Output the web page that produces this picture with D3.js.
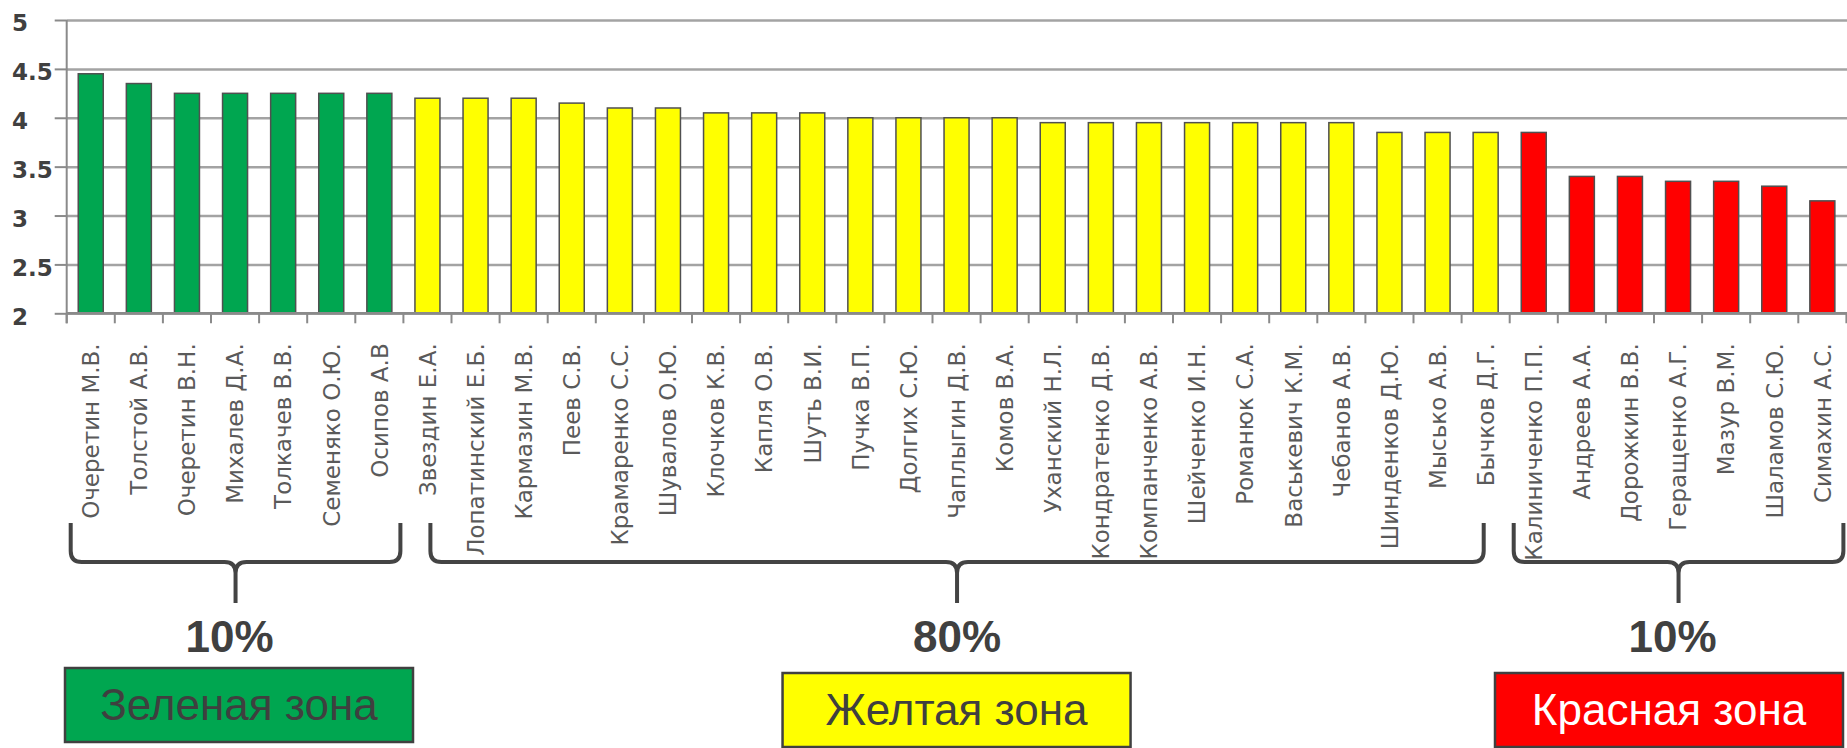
<!DOCTYPE html>
<html>
<head>
<meta charset="utf-8">
<script src="https://cdn.jsdelivr.net/npm/d3@7"></script>
<style>
  html, body { margin: 0; padding: 0; background: #ffffff; }
  svg { display: block; }
</style>
</head>
<body>
<svg id="chart" width="1847" height="748"></svg>
<script>
// ---------------- DATA ----------------
const categories = [
  "Очеретин М.В.", "Толстой А.В.", "Очеретин В.Н.", "Михалев Д.А.", "Толкачев В.В.",
  "Семеняко О.Ю.", "Осипов А.В", "Звездин Е.А.", "Лопатинский Е.Б.", "Кармазин М.В.",
  "Пеев С.В.", "Крамаренко С.С.", "Шувалов О.Ю.", "Клочков К.В.", "Капля О.В.",
  "Шуть В.И.", "Пучка В.П.", "Долгих С.Ю.", "Чаплыгин Д.В.", "Комов В.А.",
  "Уханский Н.Л.", "Кондратенко Д.В.", "Компанченко А.В.", "Шейченко И.Н.", "Романюк С.А.",
  "Васькевич К.М.", "Чебанов А.В.", "Шинденков Д.Ю.", "Мысько А.В.", "Бычков Д.Г.",
  "Калиниченко П.П.", "Андреев А.А.", "Дорожкин В.В.", "Геращенко А.Г.", "Мазур В.М.",
  "Шаламов С.Ю.", "Симахин А.С."
];
const values = [
  4.45, 4.35, 4.25, 4.25, 4.25,
  4.25, 4.25, 4.2, 4.2, 4.2,
  4.15, 4.1, 4.1, 4.05, 4.05,
  4.05, 4.0, 4.0, 4.0, 4.0,
  3.95, 3.95, 3.95, 3.95, 3.95,
  3.95, 3.95, 3.85, 3.85, 3.85,
  3.85, 3.4, 3.4, 3.35, 3.35,
  3.3, 3.15
];
const yTickValues = [2, 2.5, 3, 3.5, 4, 4.5, 5];
const yTickLabels = ["2", "2.5", "3", "3.5", "4", "4.5", "5"];

const zoneNames  = ["Зеленая зона", "Желтая зона", "Красная зона"];
const zoneShares = ["10%", "80%", "10%"];
const zoneSizes  = [7, 23, 7];

// ---------------- STYLE / LAYOUT ----------------
const zoneColors     = ["#00a650", "#ffff00", "#ff0000"];
const zoneTextColors = ["#3f3f3f", "#3f3f3f", "#ffffff"];
const braceInsets    = [[4, 3], [27, 26], [4, 3]];
const boxTops        = [668, 673, 673];

const W = 1847, H = 748;
const plotLeft = 66.7, plotRight = 1846.4, plotTop = 20, plotBottom = 313.3;

const svg = d3.select("#chart");
svg.append("rect").attr("width", W).attr("height", H).attr("fill", "#ffffff");

const x = d3.scaleBand().domain(categories).range([plotLeft, plotRight]).padding(0);
const y = d3.scaleLinear().domain([2, 5]).range([plotBottom, plotTop]);

// zone index per bar
const zoneOf = [];
zoneSizes.forEach((n, z) => { for (let i = 0; i < n; i++) zoneOf.push(z); });

// gridlines
const grid = svg.append("g").attr("transform", `translate(${plotLeft},0)`)
  .call(d3.axisLeft(y).tickValues(yTickValues).tickSize(-(W - plotLeft)).tickFormat(""));
grid.select(".domain").remove();
grid.selectAll("line").attr("stroke", "#a3a3a3").attr("stroke-width", 2.5);

// y axis
const yAxis = svg.append("g").attr("transform", `translate(${plotLeft},0)`)
  .call(d3.axisLeft(y).tickValues(yTickValues).tickFormat((d, i) => yTickLabels[i]).tickSize(12).tickSizeOuter(0));
yAxis.select(".domain").remove();
yAxis.selectAll("line").attr("stroke", "#8a8a8a").attr("stroke-width", 2);
yAxis.selectAll("text")
  .attr("x", 12 - plotLeft)
  .attr("dy", "0.47em")
  .attr("text-anchor", "start")
  .attr("font-family", "'DejaVu Sans', Verdana, sans-serif")
  .attr("font-weight", "bold")
  .attr("font-size", 23)
  .attr("fill", "#404040");
svg.append("line")
  .attr("x1", plotLeft).attr("x2", plotLeft)
  .attr("y1", y(5)).attr("y2", plotBottom + 10)
  .attr("stroke", "#8a8a8a").attr("stroke-width", 2);

// bars
svg.append("g").selectAll("rect").data(categories).join("rect")
  .attr("x", d => x(d) + x.bandwidth() * 0.24)
  .attr("width", x.bandwidth() * 0.52)
  .attr("y", (d, i) => y(values[i]))
  .attr("height", (d, i) => y(2) - y(values[i]))
  .attr("fill", (d, i) => zoneColors[zoneOf[i]])
  .attr("stroke", "#505050")
  .attr("stroke-width", 1.5);

// x axis line + boundary ticks
svg.append("line")
  .attr("x1", plotLeft).attr("x2", W)
  .attr("y1", plotBottom).attr("y2", plotBottom)
  .attr("stroke", "#8a8a8a").attr("stroke-width", 2.5);
const boundaries = categories.map(d => x(d)).concat([x(categories[categories.length - 1]) + x.bandwidth()]);
svg.append("g").selectAll("line").data(boundaries).join("line")
  .attr("x1", d => d).attr("x2", d => d)
  .attr("y1", plotBottom).attr("y2", plotBottom + 10)
  .attr("stroke", "#8a8a8a").attr("stroke-width", 2);

// x labels
const xAxis = svg.append("g").attr("transform", `translate(0,${plotBottom})`)
  .call(d3.axisBottom(x).tickSize(0).tickSizeOuter(0));
xAxis.select(".domain").remove();
xAxis.selectAll("text")
  .attr("transform", "rotate(-90)")
  .attr("x", -30)
  .attr("y", 0)
  .attr("dy", "0.36em")
  .attr("text-anchor", "end")
  .attr("font-family", "'DejaVu Sans', Verdana, sans-serif")
  .attr("font-size", 23)
  .attr("fill", "#5a5a5a");

// zones: braces, percentages, boxes
let start = 0;
const zoneRanges = zoneSizes.map(n => {
  const a = start, b = start + n - 1;
  start += n;
  return [x(categories[a]), x(categories[b]) + x.bandwidth()];
});

function bracePath(x0, x1, yTop, yMid, yTip, r) {
  const xc = (x0 + x1) / 2;
  return `M${x0},${yTop} L${x0},${yMid - r} Q${x0},${yMid} ${x0 + r},${yMid} L${xc - r},${yMid} Q${xc},${yMid} ${xc},${yMid + r} L${xc},${yTip}` +
         ` M${x1},${yTop} L${x1},${yMid - r} Q${x1},${yMid} ${x1 - r},${yMid} L${xc + r},${yMid} Q${xc},${yMid} ${xc},${yMid + r}`;
}

const boxW = 348, boxH = 74;
zoneRanges.forEach((rg, z) => {
  const x0 = rg[0] + braceInsets[z][0];
  const x1 = rg[1] - braceInsets[z][1];
  const xc = (x0 + x1) / 2;
  svg.append("path")
    .attr("d", bracePath(x0, x1, 523, 562, 603, 11))
    .attr("fill", "none")
    .attr("stroke", "#444444")
    .attr("stroke-width", 4)
    .attr("stroke-linejoin", "round");

  svg.append("text")
    .attr("x", xc - (z === 1 ? 0 : 6))
    .attr("y", 652)
    .attr("text-anchor", "middle")
    .attr("font-family", "'Liberation Sans', Arial, sans-serif")
    .attr("font-weight", "bold")
    .attr("font-size", 44)
    .attr("fill", "#404040")
    .text(zoneShares[z]);

  const center = (rg[0] + rg[1]) / 2;
  const bx = Math.min(Math.max(center - boxW / 2, 65), 1843 - boxW);
  svg.append("rect")
    .attr("x", bx).attr("y", boxTops[z])
    .attr("width", boxW).attr("height", boxH)
    .attr("fill", zoneColors[z])
    .attr("stroke", "#404040")
    .attr("stroke-width", 2.5);
  svg.append("text")
    .attr("x", bx + boxW / 2)
    .attr("y", boxTops[z] + boxH / 2 + 15)
    .attr("text-anchor", "middle")
    .attr("font-family", "'Liberation Sans', Arial, sans-serif")
    .attr("font-size", 44)
    .attr("fill", zoneTextColors[z])
    .text(zoneNames[z]);
});
</script>
</body>
</html>
